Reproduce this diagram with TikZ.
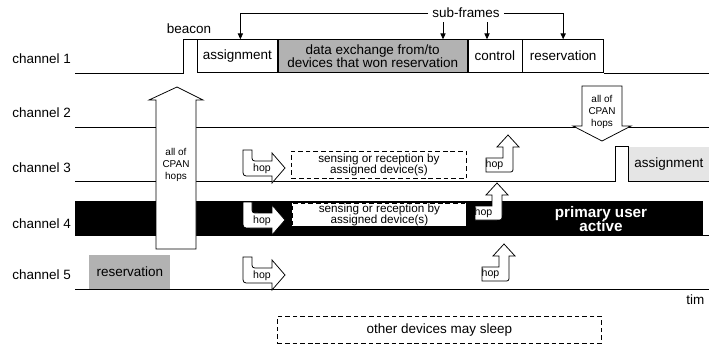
\documentclass[tikz,border=0pt]{standalone}
\usepackage{fontspec}
\setmainfont{Liberation Sans}
\usetikzlibrary{arrows.meta,positioning}
\newlength\pxu
\setlength\pxu{0.03cm}
\tikzset{
	%Define standard arrow tip
	>={Triangle[length=5pt,width=4.5pt]},
	%Define style for channel names
	chan/.style={anchor=west, inner sep=0pt},
	%Define style for sub-frame boxes
	slot/.style={
		rectangle,
		draw=black,
		minimum height=33\pxu,
		inner sep=0pt,
		text centered},
	% Define style for dashed boxes
	dbox/.style={
		rectangle,
		draw=black,
		dash pattern=on 4pt off 2.5pt,
		inner sep=0pt,
		align=center},
	% Define style for the wide arrows
	bigarrow/.style={draw=black, fill=white},
	cpan/.style={font=\fontsize{8.5}{10}\selectfont, align=center, inner sep=0pt},
	hoptext/.style={font=\fontsize{9}{9}\selectfont, inner sep=0pt},
	% hop arrows
	hopright/.pic={
		\draw[fill=white] (0,0) -- (9,0) -- (9,5) .. controls (9,11) .. (15,11) -- (29,11)
			-- (29,3) -- (42,18) -- (29,33) -- (29,26) -- (7,26) .. controls (0,26) .. (0,19) -- cycle;
		\node[hoptext] (-t) at (19,18.5) {hop};
	},
	hopup/.pic={
		\draw[fill=white] (0,0) -- (22,0) .. controls (27,0) .. (27,-5) -- (27,-25) -- (33,-25)
			-- (22,-37) -- (11,-25) -- (17,-25) -- (17,-14) -- (0,-14) -- cycle;
		\node[hoptext] (-t) at (8.5,-7) {hop};
	}
}
\begin{document}
\begin{tikzpicture}[x=0.03cm, y=-0.03cm, line width=0.65pt, font=\fontsize{11.5}{12}\selectfont]
	\useasboundingbox (0,0) rectangle (709,345);

	\node[chan] (lab1) at (12,59) {channel 1};
	\node[chan] (lab2) at (12,113) {channel 2};
	\node[chan] (lab3) at (12,168) {channel 3};
	\node[chan] (lab4) at (12,224) {channel 4};
	\node[chan] (lab5) at (12,275) {channel 5};

	% channel 1
	\node[slot, anchor=south west, minimum width=80\pxu] (asg1) at (197,73) {assignment};
	\node[slot, right=0pt of asg1, minimum width=189\pxu, fill=black!30, align=center,
		font=\fontsize{11.5}{10.5}\selectfont] (data1) {data exchange from/to\\devices that won reservation};
	\node[slot, right=0pt of data1, minimum width=54\pxu] (ctl1) {control};
	\node[slot, right=0pt of ctl1, minimum width=81\pxu] (res1) {reservation};
	\coordinate (w1) at (75,73);
	\coordinate (e1) at (709,73);
	\draw (w1) -- (183,73) |- (asg1.north west);
	\draw (res1.south east) -- (e1);
	\node (beacon) at (189,29) {beacon};

	\node (subf) at (466,13) {sub-frames};
	\draw[->] (subf.west) -| ([xshift=3\pxu]asg1.north);
	\draw[->] (subf.east) -| (res1.north);
	\draw[->] ([xshift=-23\pxu]subf.south) -- ([xshift=-23\pxu]subf.south |- data1.north);
	\draw[->] ([xshift=21\pxu]subf.south) -- ([xshift=21\pxu]subf.south |- ctl1.north);

	% channel 2
	\coordinate (w2) at (75,127);
	\coordinate (e2) at (709,127);
	\draw (w2) -- (e2);

	% channel 3
	\node[anchor=south west, fill=black!10, minimum width=81\pxu, minimum height=34\pxu, inner sep=0pt] (asg3) at (628,181) {assignment};
	\coordinate (w3) at (75,181);
	\coordinate (e3) at (709,181);
	\draw (w3) -- (615,181) |- (asg3.north west) -- (asg3.south west) -- (e3);
	\node[dbox, anchor=north west, minimum width=175\pxu, minimum height=27\pxu,
		font=\fontsize{10}{9.5}\selectfont] (sens3) at (291,151) {sensing or reception by\\assigned device(s)};

	% channel 4
	\coordinate (w4) at (75,235);
	\coordinate (e4) at (709,235);
	\draw (w4) -- (e4);
	\fill (75,201) rectangle (703,235);
	\node[dbox, draw=black, fill=white, anchor=north west, minimum width=174\pxu, minimum height=23\pxu,
		font=\fontsize{10}{9.5}\selectfont] (sens4) at (292,203) {sensing or reception by\\assigned device(s)};
	\node[text=white, align=center, font=\fontsize{13}{12.5}\selectfont\bfseries] (pua) at (601,219) {primary user\\active};

	% channel 5
	\coordinate (w5) at (75,289);
	\coordinate (e5) at (709,289);
	\draw (w5) -- (e5);
	\node[anchor=south west, fill=black!30, minimum width=81\pxu, minimum height=34\pxu, inner sep=0pt] (res5) at (89,289) {reservation};

	% all of CPAN hops
	\draw[bigarrow] (156,249) -- (156,100) -- (149,100) -- (177,87) -- (203,100) -- (196,100) -- (196,249) -- cycle;
	\node[cpan] (cpan1) at (176,165) {all of\\CPAN\\hops};
	\draw[bigarrow] (582,86) -- (622,86) -- (622,126) -- (631,126) -- (602,141) -- (573,126) -- (582,126) -- cycle;
	\node[cpan] (cpan2) at (602,112) {all of\\CPAN\\hops};

	% hops
	\pic (hopa) at (243,150) {hopright};
	\pic (hopb) at (243,202) {hopright};
	\pic (hopc) at (243,257) {hopright};
	\pic (hopd) at (486,172) {hopup};
	\pic (hope) at (475,220) {hopup};
	\pic (hopf) at (482,281) {hopup};

	\node[anchor=west, inner sep=0pt] (time) at (686,300) {tim};
	\node[dbox, anchor=north west, minimum width=324\pxu, minimum height=27\pxu] (sleep) at (277,316) {other devices may sleep};
\end{tikzpicture}
\end{document}
